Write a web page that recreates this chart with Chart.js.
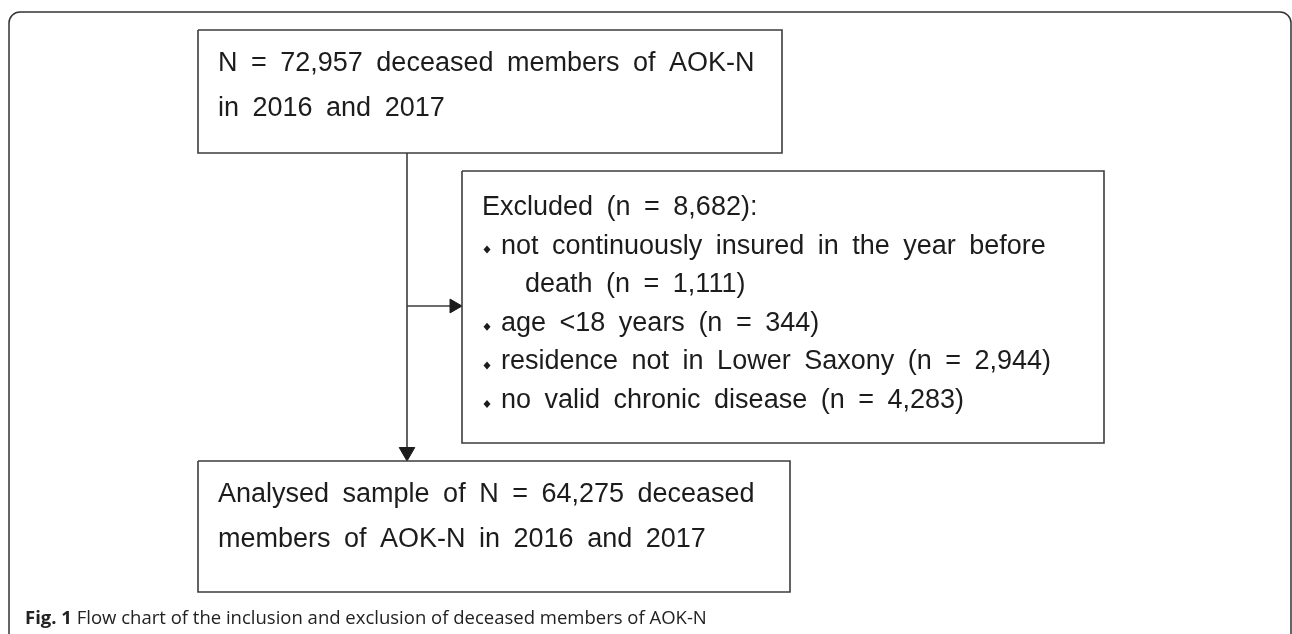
<!DOCTYPE html>
<html>
<head>
<meta charset="utf-8">
<script src="https://cdn.jsdelivr.net/npm/chart.js@4.4.1/dist/chart.umd.min.js"></script>
<style>
  html, body { margin: 0; padding: 0; background: #fff; }
  #wrap { width: 1292px; height: 634px; }
</style>
</head>
<body>
<div id="wrap"><canvas id="grafica" width="1292" height="634"></canvas></div>
<script>
// Textos del diagrama
const topBoxLines = ["N = 72,957 deceased members of AOK-N", "in 2016 and 2017"];
const excludedTitle = "Excluded (n = 8,682):";
const excludedItems = [
    ["not continuously insured in the year before", "death (n = 1,111)"],
    ["age <18 years (n = 344)"],
    ["residence not in Lower Saxony (n = 2,944)"],
    ["no valid chronic disease (n = 4,283)"]
];
const analysedLines = ["Analysed sample of N = 64,275 deceased", "members of AOK-N in 2016 and 2017"];
const captionLabel = "Fig. 1";
const captionText = " Flow chart of the inclusion and exclusion of deceased members of AOK-N";

// Disposición (unidades de los ejes = píxeles de la figura)
const layout = {
    topBox: { x0: 198, y0: 30, x1: 782, y1: 153 },
    exclBox: { x0: 462, y0: 171, x1: 1104, y1: 443 },
    anBox: { x0: 198, y0: 461, x1: 790, y1: 592 },
    stemX: 407,
    arrowY: 306,
    headV: 9,
    headH: 8
};

const LINE = "#3c3c3c";
const INK = "#1c1c1c";

function boxPath(b) {
    return [
        { x: b.x0, y: b.y0 }, { x: b.x1, y: b.y0 },
        { x: b.x1, y: b.y1 }, { x: b.x0, y: b.y1 }, { x: b.x0, y: b.y0 }
    ];
}

function boxDataset(b) {
    return {
        data: boxPath(b),
        showLine: true,
        borderColor: LINE,
        borderWidth: 1.6,
        pointRadius: 0,
        tension: 0
    };
}

function arrowDataset(from, to, rot, size) {
    return {
        data: [from, to],
        showLine: true,
        borderColor: LINE,
        borderWidth: 1.6,
        pointStyle: ["circle", "triangle"],
        pointRadius: [0, size],
        rotation: [0, rot],
        pointBackgroundColor: INK,
        pointBorderColor: INK,
        pointBorderWidth: 1
    };
}

const datasets = [
    boxDataset(layout.topBox),
    boxDataset(layout.exclBox),
    boxDataset(layout.anBox),
    arrowDataset({ x: layout.stemX, y: layout.topBox.y1 },
                 { x: layout.stemX, y: layout.anBox.y0 - layout.headV }, 180, layout.headV),
    arrowDataset({ x: layout.stemX, y: layout.arrowY },
                 { x: layout.exclBox.x0 - layout.headH, y: layout.arrowY }, 90, layout.headH)
];

// Marco redondeado, textos y viñetas
const flowPlugin = {
    id: "flow",
    beforeDatasetsDraw(chart) {
        const { ctx, scales: { x, y } } = chart;
        const l = x.getPixelForValue(9), t = y.getPixelForValue(12);
        const r = x.getPixelForValue(1291), b = y.getPixelForValue(650);
        ctx.save();
        ctx.strokeStyle = "#333";
        ctx.lineWidth = 1.5;
        ctx.beginPath();
        ctx.roundRect(l, t, r - l, b - t, 11);
        ctx.stroke();
        ctx.restore();
    },
    afterDatasetsDraw(chart) {
        const { ctx, scales: { x, y } } = chart;
        const px = v => x.getPixelForValue(v);
        const py = v => y.getPixelForValue(v);
        ctx.save();
        ctx.fillStyle = INK;
        ctx.textBaseline = "alphabetic";
        ctx.textAlign = "left";
        if ("wordSpacing" in ctx) ctx.wordSpacing = "6px";

        ctx.font = "27px 'Liberation Sans', Arial, sans-serif";
        topBoxLines.forEach((s, i) => ctx.fillText(s, px(layout.topBox.x0 + 20), py(layout.topBox.y0 + 41 + i * 45)));
        analysedLines.forEach((s, i) => ctx.fillText(s, px(layout.anBox.x0 + 20), py(layout.anBox.y0 + 41 + i * 45)));

        let base = layout.exclBox.y0 + 44;
        const pitch = 38.6;
        ctx.fillText(excludedTitle, px(layout.exclBox.x0 + 20), py(base));
        excludedItems.forEach(item => {
            item.forEach((s, j) => {
                base += pitch;
                if (j === 0) {
                    const cx = px(layout.exclBox.x0 + 25), cy = py(base - 4);
                    ctx.beginPath();
                    ctx.moveTo(cx, cy - 4);
                    ctx.lineTo(cx + 3.5, cy);
                    ctx.lineTo(cx, cy + 4);
                    ctx.lineTo(cx - 3.5, cy);
                    ctx.closePath();
                    ctx.fill();
                }
                ctx.fillText(s, px(layout.exclBox.x0 + (j === 0 ? 39 : 63)), py(base));
            });
        });

        if ("wordSpacing" in ctx) ctx.wordSpacing = "0px";
        ctx.fillStyle = "#222";
        ctx.font = "bold 18.5px 'Open Sans', sans-serif";
        ctx.fillText(captionLabel, px(25), py(624));
        const w = ctx.measureText(captionLabel).width;
        ctx.font = "18.5px 'Open Sans', sans-serif";
        ctx.fillText(captionText, px(25) + w, py(624));
        ctx.restore();
    }
};

const chart = new Chart(document.getElementById("grafica").getContext("2d"), {
    type: "scatter",
    data: { datasets: datasets },
    options: {
        responsive: false,
        animation: false,
        devicePixelRatio: 1,
        layout: { padding: 0, autoPadding: false },
        plugins: { legend: { display: false }, tooltip: { enabled: false } },
        scales: {
            x: { type: "linear", min: 0, max: 1292, display: false },
            y: { type: "linear", min: 0, max: 634, reverse: true, display: false }
        }
    },
    plugins: [flowPlugin]
});
</script>
</body>
</html>
